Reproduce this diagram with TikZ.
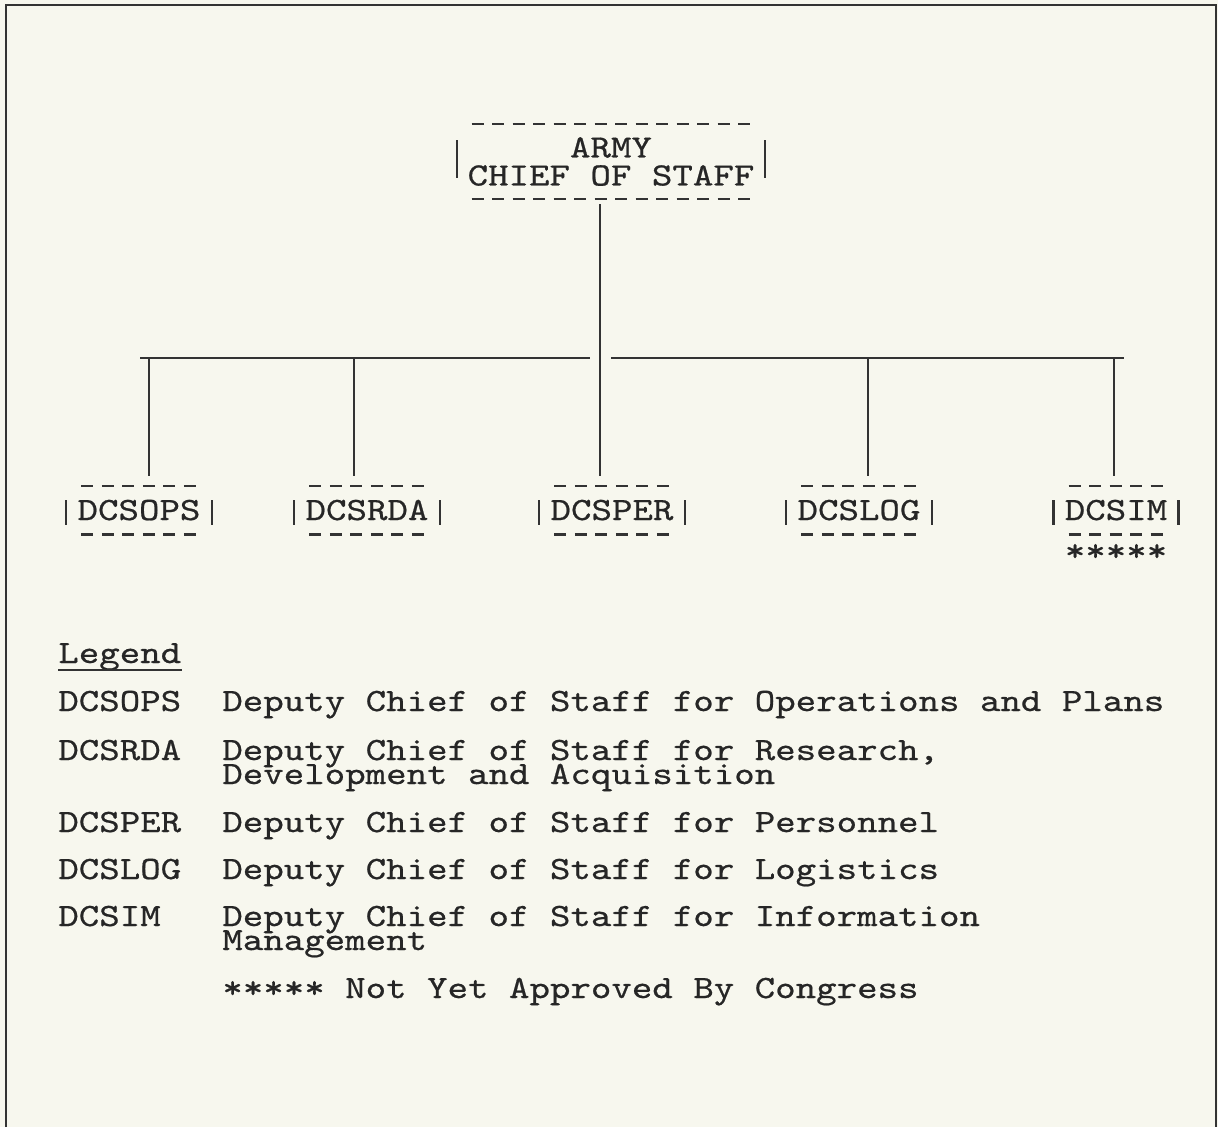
\documentclass[tikz,border=0pt]{standalone}
\usepackage{fontspec}
\newfontfamily\typer[FakeStretch=1.2, FakeBold=0.6]{lmmono10-regular.otf}
\newcommand\tightlines{\lineskiplimit=-100pt\relax}
\usetikzlibrary{calc,positioning}
\definecolor{paper}{HTML}{F7F7EE}
\definecolor{ink}{HTML}{262626}
\definecolor{rule}{HTML}{333333}

\tikzset{
  typed/.style={font={\typer\fontsize{18.5}{13.66}\selectfont\tightlines}, text=ink, inner sep=0pt},
  unitbox/.style={typed, inner xsep=0pt, inner ysep=0.28cm, text height=0.4cm, text depth=0pt, anchor=base},
  dashrow/.style={rule, line width=1.3pt, dash pattern=on 0.24cm off 0.17cm, dash phase=0.325cm},
  wire/.style={rule, line width=1.3pt},
}

\begin{document}
\begin{tikzpicture}[x=0.02cm,y=-0.02cm,line cap=butt]
  \fill[paper] (0,0) rectangle (1218,1127);
  \useasboundingbox (0,0) rectangle (1218,1127);
  \draw[wire] (6,1127) -- (6,5) -- (1216,5) -- (1216,1127);

  % top of the chart
  \node[typed, align=center, inner ysep=0.26cm,
        font={\typer\fontsize{18.5}{15.94}\selectfont\tightlines}] (chief) at (611,161.5) {ARMY\\CHIEF OF STAFF};
  \draw[dashrow] (chief.north west) -- (chief.north east);
  \draw[dashrow] (chief.south west) -- (chief.south east);
  \draw[wire] ([xshift=-0.2cm,yshift=0.43cm]chief.west) -- ([xshift=-0.2cm,yshift=-0.33cm]chief.west);
  \draw[wire] ([xshift=0.2cm,yshift=0.43cm]chief.east) -- ([xshift=0.2cm,yshift=-0.33cm]chief.east);

  % deputies
  \foreach \n/\x/\lbl in {ops/139/DCSOPS, rda/367/DCSRDA, per/612/DCSPER, log/859/DCSLOG, im/1116/DCSIM}{
    \node[unitbox] (\n) at (\x,520) {\lbl};
    \draw[dashrow] (\n.north west) -- (\n.north east);
    \draw[dashrow] (\n.south west) -- (\n.south east);
    \draw[wire] ([xshift=-0.22cm,yshift=0.4cm]\n.base west) -- ([xshift=-0.22cm,yshift=-0.1cm]\n.base west);
    \draw[wire] ([xshift=0.22cm,yshift=0.4cm]\n.base east) -- ([xshift=0.22cm,yshift=-0.1cm]\n.base east);
  }
  \node[typed, anchor=base] (stars) at (1116,561) {*****};

  % connectors
  \coordinate (busL) at (140,358);
  \coordinate (busR) at (1124,358);
  \draw[wire] (busL) -- (590,358);
  \draw[wire] (611,358) -- (busR);
  \draw[wire, shorten <=0.1cm, shorten >=0.2cm] (chief.south -| 600,0) -- (per.north -| 600,0);
  \foreach \n/\x in {ops/149, rda/354, log/868, im/1114}
    \draw[wire, shorten >=0.2cm] (\x,358) -- (\n.north -| \x,0);

  % legend (multi-line entries sit on the baseline of their last line)
  \node[typed, anchor=base west] (legend) at (58,663) {Legend};
  \draw[rule, line width=1pt] ([yshift=-0.14cm]legend.base west) -- ([yshift=-0.14cm]legend.base east);
  \foreach \n/\abbr/\y/\last/\desc in {
      ops/DCSOPS/711/711/{Deputy Chief of Staff for Operations and Plans},
      rda/DCSRDA/760/784/{Deputy Chief of Staff for Research,\\Development and Acquisition},
      per/DCSPER/832/832/{Deputy Chief of Staff for Personnel},
      log/DCSLOG/879/879/{Deputy Chief of Staff for Logistics},
      im/DCSIM/926/950/{Deputy Chief of Staff for Information\\Management}}{
    \node[typed, anchor=base west] (key-\n) at (58,\y) {\abbr};
    \node[typed, anchor=base west, align=left] (txt-\n) at (222,\last) {\desc};
  }
  \node[typed, anchor=base west] (note) at (222,998) {***** Not Yet Approved By Congress};
\end{tikzpicture}
\end{document}
